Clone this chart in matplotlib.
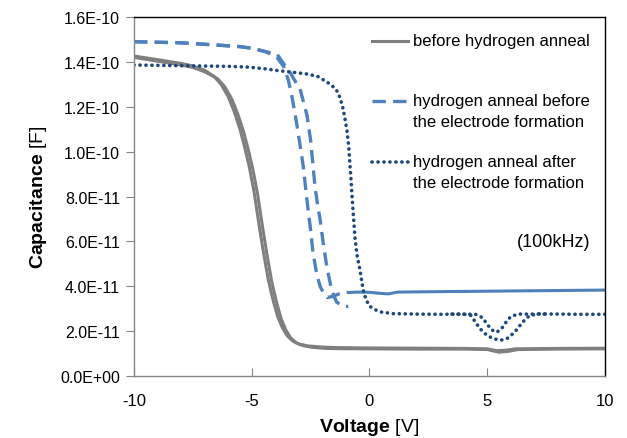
import numpy as np
import matplotlib
matplotlib.use("Agg")
import matplotlib.pyplot as plt
from matplotlib.ticker import FuncFormatter, MultipleLocator

plt.rcParams['font.family'] = ['Liberation Sans', 'DejaVu Sans']
plt.rcParams['mathtext.fontset'] = 'custom'
plt.rcParams['mathtext.rm'] = 'Liberation Sans'
plt.rcParams['mathtext.bf'] = 'Liberation Sans:bold'
plt.rcParams['axes.unicode_minus'] = False

# --- data (voltage in V, capacitance in units of 1e-10 F) ---
v_gray_a = [-10, -9, -8, -7.5, -7, -6.6, -6.3, -6.0, -5.75, -5.5, -5.3, -5.1, -4.9, -4.7,
            -4.5, -4.3, -4.1, -3.9, -3.7, -3.5, -3.25, -3.0, -2.6, -2.0, -1.5, 0, 2, 4,
            5, 5.4, 5.8, 6.2, 8, 10]
c_gray_a = [1.426, 1.41, 1.393, 1.382, 1.363, 1.335, 1.30, 1.245, 1.18, 1.10, 1.02, 0.93,
            0.82, 0.68, 0.55, 0.43, 0.34, 0.265, 0.215, 0.18, 0.155, 0.143, 0.134, 0.129,
            0.127, 0.125, 0.124, 0.123, 0.121, 0.113, 0.115, 0.121, 0.123, 0.124]

v_gray_b = [-10, -9, -8, -7.5, -7, -6.45, -6.15, -5.85, -5.6, -5.35, -5.15, -4.95, -4.75,
            -4.55, -4.35, -4.15, -3.95, -3.75, -3.55, -3.35, -3.1, -2.85, -2.45, -1.85,
            -1.35, 0, 2, 4, 5, 5.5, 5.9, 6.3, 8, 10]
c_gray_b = [1.42, 1.403, 1.386, 1.375, 1.356, 1.325, 1.29, 1.235, 1.17, 1.09, 1.01, 0.92,
            0.81, 0.67, 0.54, 0.42, 0.33, 0.255, 0.205, 0.17, 0.147, 0.136, 0.128, 0.123,
            0.122, 0.121, 0.12, 0.12, 0.118, 0.106, 0.11, 0.118, 0.12, 0.121]

v_dash_a = [-10, -8, -6.5, -5.5, -4.95, -4.4, -3.93, -3.65, -3.45, -3.3, -3.1, -2.95, -2.82,
            -2.65, -2.5, -2.4, -2.25, -2.1, -1.95, -1.8, -1.55, -1.2, -0.9]
c_dash_a = [1.49, 1.485, 1.475, 1.468, 1.46, 1.445, 1.42, 1.38, 1.32, 1.25, 1.13, 1.03, 0.94,
            0.78, 0.65, 0.55, 0.46, 0.40, 0.37, 0.35, 0.355, 0.37, 0.373]

v_dash_b = [-10, -8, -6.5, -5.5, -4.95, -4.4, -3.93, -3.7, -3.38, -3.08, -2.95, -2.8, -2.65,
            -2.5, -2.4, -2.31, -2.2, -2.1, -1.95, -1.8, -1.6, -1.4, -1.12, -0.9]
c_dash_b = [1.49, 1.485, 1.475, 1.468, 1.46, 1.445, 1.435, 1.40, 1.355, 1.30, 1.28, 1.22, 1.16,
            1.05, 0.94, 0.84, 0.76, 0.70, 0.58, 0.48, 0.38, 0.33, 0.31, 0.31]

v_flat_blue = [-0.9, -0.5, 0, 0.5, 0.8, 1.2, 2, 4, 6, 8, 10]
c_flat_blue = [0.372, 0.374, 0.373, 0.368, 0.366, 0.374, 0.375, 0.377, 0.379, 0.381, 0.383]

v_dot_a = [-10, -8, -6, -5.2, -4.5, -3.8, -3.2, -2.65, -2.2, -1.8, -1.55, -1.38, -1.25,
           -1.12, -1.03, -0.95, -0.88, -0.83, -0.78, -0.74, -0.68, -0.62, -0.53, -0.4,
           -0.28, -0.15, 0.02, 0.25, 0.5, 1, 2, 3, 4, 4.3, 4.5, 4.7, 5.0, 5.3, 5.6, 5.9,
           6.2, 6.5, 6.8, 7.2, 8, 9, 10]
c_dot_a = [1.386, 1.383, 1.38, 1.377, 1.37, 1.36, 1.353, 1.346, 1.335, 1.31, 1.29, 1.27, 1.24,
           1.19, 1.14, 1.09, 1.02, 0.94, 0.87, 0.80, 0.71, 0.62, 0.54, 0.47,
           0.39, 0.34, 0.31, 0.295, 0.285, 0.278, 0.276, 0.275, 0.276, 0.27, 0.24, 0.21,
           0.18, 0.165, 0.16, 0.17, 0.2, 0.24, 0.27, 0.277, 0.276, 0.275, 0.275]

v_dot_b = [3.5, 4.5, 4.8, 5.0, 5.2, 5.4, 5.6, 5.8, 6.0, 6.3, 7.5]
c_dot_b = [0.276, 0.275, 0.26, 0.23, 0.205, 0.195, 0.21, 0.24, 0.265, 0.276, 0.276]

labels = ['before hydrogen anneal',
          'hydrogen anneal before\nthe electrode formation',
          'hydrogen anneal after\nthe electrode formation']

gray = '#7f7f7f'
blue = '#4f81bd'
navy = '#1f497d'

fig = plt.figure(figsize=(6.27, 4.39), dpi=100)
ax = fig.add_axes([0.2137, 0.1412, 0.7512, 0.8178])

def cap(c):
    return np.array(c) * 1e-10

gray_st = dict(color=gray, lw=2.2, solid_joinstyle='round')
dash_st = dict(color=blue, lw=2.4, ls=(0, (4, 2.2)))
dot_st = dict(color=navy, lw=2.6, ls=(0, (0.05, 1.6)), dash_capstyle='round')

ax.plot(v_gray_a, cap(c_gray_a), **gray_st)
ax.plot(v_gray_b, cap(c_gray_b), **gray_st)
ax.plot(v_flat_blue, cap(c_flat_blue), color=blue, lw=2.2)
ax.plot(v_dash_a, cap(c_dash_a), **dash_st)
ax.plot(v_dash_b, cap(c_dash_b), **dash_st)
ax.plot(v_dot_a, cap(c_dot_a), **dot_st)
ax.plot(v_dot_b, cap(c_dot_b), **dot_st)

ax.set_xlim(-10, 10)
ax.set_ylim(0, 1.6e-10)
ax.xaxis.set_major_locator(MultipleLocator(5))
ax.yaxis.set_major_locator(MultipleLocator(0.2e-10))
ax.yaxis.set_major_formatter(FuncFormatter(lambda v, p: f"{v:.1E}"))
ax.tick_params(axis='x', direction='in', length=6, color='#868686', labelsize=12, pad=12)
ax.tick_params(axis='y', direction='out', length=6, color='#868686', labelsize=11.5, pad=4)
for s in ['left', 'bottom']:
    ax.spines[s].set_color('#868686')
for s in ['top', 'right']:
    ax.spines[s].set_color('black')
for s in ax.spines.values():
    s.set_linewidth(1.0)

ax.set_xlabel(r'$\mathbf{Voltage}$ [V]', fontsize=14, labelpad=6)
ax.set_ylabel(r'$\mathbf{Capacitance}$ [F]', fontsize=14, labelpad=8)

# legend drawn by hand so the handle sits on the first text line, as in the original
rows = [0.933, 0.766, 0.596]
for lab, st, yy in zip(labels, [gray_st, dash_st, dot_st], rows):
    ax.plot([0.505, 0.582], [yy, yy], transform=ax.transAxes, clip_on=False, **st)
    ax.text(0.592, yy + 0.022, lab, transform=ax.transAxes, fontsize=12,
            va='top', ha='left', linespacing=1.45)

ax.text(0.89, 0.376, '(100kHz)', transform=ax.transAxes, fontsize=13,
        ha='center', va='center')

fig.savefig('out.png', dpi=100)
